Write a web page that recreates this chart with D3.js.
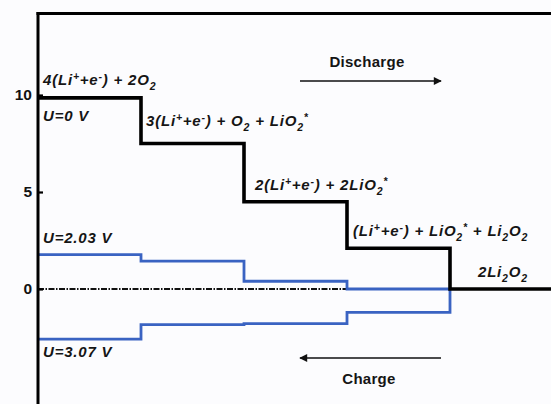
<!DOCTYPE html>
<html>
<head>
<meta charset="utf-8">
<script src="https://cdn.jsdelivr.net/npm/d3@7"></script>
<style>
    body { margin: 0; background: #fcfcfe; }
    svg { display: block; font-family: "Liberation Sans", Arial, sans-serif; }
</style>
</head>
<body>
<div id="chart"></div>
<script>
// étapes de la réaction (0 = 4(Li+ + e-) + 2O2 ... 4 = 2Li2O2)
const steps = [0, 1, 2, 3, 4];
// énergies libres (eV)
const energyU0 = [9.85, 7.5, 4.5, 2.1, 0];
const energyU203 = [1.77, 1.44, 0.4, 0.0, 0];
const energyU307 = [-2.58, -1.84, -1.78, -1.2, 0];
const yTicks = [0, 5, 10];

// libellés des états (segments : texte normal, indice, exposant)
const stateLabels = [
    [["4(Li"], ["+", "sup"], ["+e"], ["-", "sup"], [") + 2O"], ["2", "sub"]],
    [["3(Li"], ["+", "sup"], ["+e"], ["-", "sup"], [") + O"], ["2", "sub"], [" + LiO"], ["2", "sub"], ["*", "sup"]],
    [["2(Li"], ["+", "sup"], ["+e"], ["-", "sup"], [") + 2LiO"], ["2", "sub"], ["*", "sup"]],
    [["(Li"], ["+", "sup"], ["+e"], ["-", "sup"], [") + LiO"], ["2", "sub"], ["*", "sup"], [" + Li"], ["2", "sub"], ["O"], ["2", "sub"]],
    [["2Li"], ["2", "sub"], ["O"], ["2", "sub"]]
];

const width = 551, height = 404;

const svg = d3.select("#chart")
    .append("svg")
    .attr("width", width)
    .attr("height", height);

// échelles
const x = d3.scaleLinear().domain([0, 5]).range([38, 553]);
const y = d3.scaleLinear().domain([0, 10]).range([289, 95]);

// ligne pointillée à zéro
svg.append("line")
    .attr("x1", x(0)).attr("x2", x(3))
    .attr("y1", y(0)).attr("y2", y(0))
    .attr("stroke", "#111")
    .attr("stroke-width", 2.2)
    .attr("stroke-dasharray", "6,1.5,1.5,1.5");

const stepLine = d3.line()
    .x((d, i) => x(i))
    .y(d => y(d))
    .curve(d3.curveStepAfter);

// courbes à U=2.03 V et U=3.07 V
[energyU203, energyU307].forEach(function(serie) {
    svg.append("path")
        .datum(serie)
        .attr("fill", "none")
        .attr("stroke", "#3a63c2")
        .attr("stroke-width", 2.8)
        .attr("d", stepLine);
});

// courbe à U=0 V (prolongée jusqu'au bord)
svg.append("path")
    .datum(energyU0.concat([0]))
    .attr("fill", "none")
    .attr("stroke", "#000")
    .attr("stroke-width", 3.6)
    .attr("d", stepLine);

// axe y + cadre du haut
const yAxis = d3.axisRight(y).tickValues(yTicks).tickSize(5).tickFormat(d3.format("d"));
const gy = svg.append("g")
    .attr("transform", `translate(${x(0)},0)`)
    .call(yAxis);
gy.select(".domain").remove();
gy.selectAll(".tick line").attr("stroke", "#000").attr("stroke-width", 2.2);
gy.selectAll(".tick text")
    .attr("x", -6)
    .attr("text-anchor", "end")
    .attr("font-size", 15.5)
    .attr("font-weight", "bold")
    .attr("font-family", "'Liberation Sans', Arial, sans-serif")
    .attr("fill", "#111");

svg.append("line")
    .attr("x1", x(0)).attr("x2", x(0))
    .attr("y1", 12).attr("y2", height)
    .attr("stroke", "#000").attr("stroke-width", 3);
svg.append("line")
    .attr("x1", x(0) - 1.5).attr("x2", width)
    .attr("y1", 13.5).attr("y2", 13.5)
    .attr("stroke", "#000").attr("stroke-width", 3);

// fonction d'écriture des formules chimiques
function formula(xPos, yPos, parts) {
    const t = svg.append("text")
        .attr("x", xPos)
        .attr("y", yPos)
        .attr("font-size", 15)
        .attr("font-style", "italic")
        .attr("font-weight", "bold")
        .attr("letter-spacing", 0.8)
        .attr("fill", "#151515");
    let shift = 0;
    parts.forEach(function(p) {
        const kind = p[1] || "n";
        let target = 0;
        if (kind == "sub") target = 5;
        if (kind == "sup") target = -5;
        t.append("tspan")
            .attr("dy", target - shift)
            .attr("font-size", kind == "n" ? 15 : 10.5)
            .text(p[0]);
        shift = target;
    });
    return t;
}

// positions des libellés au-dessus de chaque palier
const labelPos = [[43, 85], [146, 126], [255, 190], [353, 236], [478, 277]];
stateLabels.forEach(function(parts, i) {
    formula(labelPos[i][0], labelPos[i][1], parts);
});

formula(43, 121, [["U=0 V"]]);
formula(43, 243, [["U=2.03 V"]]);
formula(43, 357, [["U=3.07 V"]]);

// flèches décharge / charge
const defs = svg.append("defs");
defs.append("marker")
    .attr("id", "head")
    .attr("viewBox", "0 0 10 10")
    .attr("refX", 9).attr("refY", 5)
    .attr("markerWidth", 9).attr("markerHeight", 8)
    .attr("markerUnits", "userSpaceOnUse")
    .attr("orient", "auto")
    .append("path")
    .attr("d", "M0,0 L10,5 L0,10 Z")
    .attr("fill", "#111");

svg.append("line")
    .attr("x1", 300).attr("x2", 441).attr("y1", 81).attr("y2", 81)
    .attr("stroke", "#111").attr("stroke-width", 1.6)
    .attr("marker-end", "url(#head)");
svg.append("line")
    .attr("x1", 441).attr("x2", 300).attr("y1", 358).attr("y2", 358)
    .attr("stroke", "#111").attr("stroke-width", 1.6)
    .attr("marker-end", "url(#head)");

svg.append("text")
    .attr("x", 367).attr("y", 67)
    .attr("text-anchor", "middle")
    .attr("font-size", 15)
    .attr("font-weight", "bold")
    .attr("letter-spacing", 0.3)
    .attr("fill", "#151515")
    .text("Discharge");
svg.append("text")
    .attr("x", 369).attr("y", 384)
    .attr("text-anchor", "middle")
    .attr("font-size", 15)
    .attr("font-weight", "bold")
    .attr("letter-spacing", 0.3)
    .attr("fill", "#151515")
    .text("Charge");
</script>
</body>
</html>
